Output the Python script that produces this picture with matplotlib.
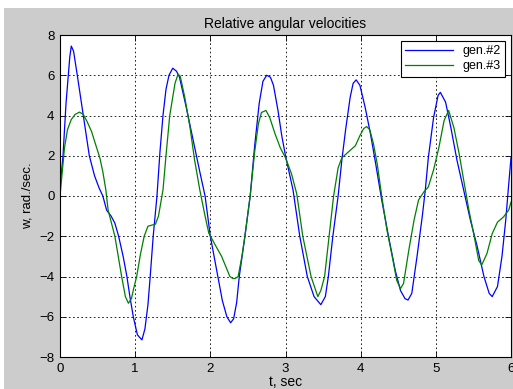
import numpy as np
import matplotlib
matplotlib.use('Agg')
import matplotlib.pyplot as plt
from matplotlib.patches import Rectangle

plt.rcParams['font.family'] = ['Liberation Sans', 'DejaVu Sans']

# gen.#2 (blue)
t_gen2 = [0.0, 0.04, 0.08, 0.13, 0.15, 0.18, 0.23, 0.31, 0.39, 0.46, 0.52, 0.57,
          0.62, 0.68, 0.73, 0.78, 0.84, 0.89, 0.93, 0.975, 1.03, 1.09, 1.13, 1.17,
          1.2, 1.24, 1.29, 1.33, 1.37, 1.41, 1.45, 1.5, 1.55, 1.59, 1.68, 1.77,
          1.86, 1.93, 2.0, 2.1, 2.16, 2.22, 2.27, 2.31, 2.35, 2.385, 2.46, 2.53,
          2.59, 2.65, 2.7, 2.75, 2.8, 2.84, 2.9, 2.95, 3.0, 3.1, 3.19, 3.29,
          3.38, 3.47, 3.53, 3.57, 3.63, 3.7, 3.75, 3.8, 3.86, 3.9, 3.94, 3.99,
          4.06, 4.13, 4.2, 4.28, 4.37, 4.46, 4.53, 4.59, 4.63, 4.68, 4.75, 4.82,
          4.86, 4.9, 4.97, 5.03, 5.06, 5.13, 5.2, 5.28, 5.37, 5.46, 5.55, 5.64,
          5.71, 5.75, 5.82, 5.88, 5.93, 5.97, 6.0]
w_gen2 = [0.4, 2.0, 4.6, 6.9, 7.45, 7.2, 6.0, 4.0, 2.0, 1.0, 0.4, 0.0,
          -0.7, -1.0, -1.35, -2.0, -3.0, -4.0, -5.0, -6.0, -6.9, -7.15, -6.6, -5.4,
          -4.0, -2.0, 0.0, 2.2, 4.0, 5.3, 6.0, 6.35, 6.2, 5.9, 4.4, 2.8,
          1.2, 0.0, -2.0, -4.0, -5.2, -6.0, -6.3, -6.1, -5.3, -4.0, -2.0, 0.0,
          2.5, 4.6, 5.7, 6.0, 5.9, 5.5, 4.25, 3.0, 2.0, 0.3, -2.0, -4.0,
          -5.0, -5.4, -5.0, -4.0, -2.0, 0.0, 1.8, 3.3, 4.9, 5.6, 5.77, 5.5,
          4.4, 3.1, 1.6, -0.2, -2.0, -3.7, -4.7, -5.1, -5.17, -4.84, -3.0, -1.0,
          0.3, 1.9, 3.9, 5.0, 5.15, 4.66, 3.4, 1.8, 0.3, -1.2, -2.5, -4.0,
          -4.84, -5.0, -4.5, -3.0, -1.2, 0.6, 1.9]

# gen.#3 (green)
t_gen3 = [0.0, 0.03, 0.06, 0.1, 0.15, 0.2, 0.26, 0.31, 0.36, 0.42, 0.47, 0.53,
          0.57, 0.61, 0.64, 0.73, 0.82, 0.87, 0.91, 0.95, 0.98, 1.02, 1.07, 1.12,
          1.17, 1.22, 1.27, 1.31, 1.37, 1.41, 1.46, 1.53, 1.57, 1.6, 1.66, 1.73,
          1.79, 1.86, 1.93, 1.98, 2.06, 2.15, 2.26, 2.3, 2.33, 2.37, 2.42, 2.46,
          2.53, 2.59, 2.64, 2.68, 2.74, 2.79, 2.86, 2.93, 3.0, 3.08, 3.15, 3.23,
          3.34, 3.43, 3.47, 3.52, 3.58, 3.64, 3.7, 3.75, 3.84, 3.93, 3.99, 4.04,
          4.08, 4.12, 4.17, 4.22, 4.28, 4.35, 4.42, 4.48, 4.53, 4.57, 4.64, 4.71,
          4.77, 4.84, 4.9, 4.97, 5.04, 5.11, 5.17, 5.24, 5.31, 5.37, 5.44, 5.51,
          5.57, 5.61, 5.68, 5.75, 5.82, 5.9, 5.97, 6.0]
w_gen3 = [0.0, 1.2, 2.4, 3.3, 3.8, 4.05, 4.17, 4.05, 3.7, 3.2, 2.6, 1.9,
          1.2, 0.3, -0.7, -2.0, -4.0, -5.0, -5.33, -5.1, -4.6, -4.0, -2.9, -2.0,
          -1.5, -1.45, -1.4, -1.0, 0.3, 2.0, 4.0, 5.6, 6.05, 5.95, 4.9, 3.4,
          1.8, 0.3, -1.0, -1.85, -2.4, -3.0, -4.0, -4.1, -4.1, -4.0, -3.0, -2.0,
          0.0, 2.2, 3.6, 4.15, 4.25, 3.9, 3.1, 2.4, 1.9, 1.1, 0.1, -2.0,
          -4.0, -5.0, -4.7, -4.0, -2.0, 0.0, 1.4, 1.9, 2.2, 2.5, 3.0, 3.35,
          3.45, 3.3, 2.6, 1.6, 0.0, -1.7, -3.0, -4.2, -4.6, -4.35, -2.7, -1.2,
          -0.2, 0.2, 0.45, 1.3, 2.4, 3.75, 4.25, 3.4, 2.1, 0.8, -0.7, -2.0,
          -3.2, -3.43, -2.86, -1.87, -1.3, -1.04, -0.7, -0.3]

series_labels = ['gen.#2', 'gen.#3']
x_ticks = [0, 1, 2, 3, 4, 5, 6]
y_ticks = [-8, -6, -4, -2, 0, 2, 4, 6, 8]

fig = plt.figure(figsize=(5.13, 3.89), dpi=100, facecolor='white')
# matlab-like gray figure area (white strip at top and left)
fig.patches.append(Rectangle((4 / 513, 0), 1, 1 - 8 / 389, transform=fig.transFigure,
                             facecolor='#cccccc', edgecolor='none', zorder=-10))

ax = fig.add_axes([60 / 513, 32 / 389, 451 / 513, 322 / 389])
ax.plot(t_gen2, w_gen2, color='#0000ff', lw=0.9, label=series_labels[0])
ax.plot(t_gen3, w_gen3, color='#008000', lw=0.9, label=series_labels[1])

ax.set_xlim(0, 6)
ax.set_ylim(-8, 8)
ax.set_xticks(x_ticks)
ax.set_yticks(y_ticks)
ax.grid(True, color='black', linestyle=(0, (2, 3)), linewidth=0.6)
ax.tick_params(direction='in', top=True, right=True, length=4, width=0.6,
               labelsize=9.5, pad=4)
for s in ax.spines.values():
    s.set_linewidth(0.8)

ax.set_title('Relative angular velocities', fontsize=10, pad=5)
ax.set_xlabel('t, sec', fontsize=10, labelpad=0)
ax.set_ylabel('w, rad./sec.', fontsize=9.5, labelpad=4)

leg = ax.legend(loc='upper right', fontsize=9, fancybox=False, framealpha=1,
                edgecolor='black', borderpad=0.35, handlelength=3.8,
                labelspacing=0.25, borderaxespad=0.45)
leg.get_frame().set_linewidth(0.8)

fig.savefig('out.png', dpi=100, facecolor=fig.get_facecolor())
